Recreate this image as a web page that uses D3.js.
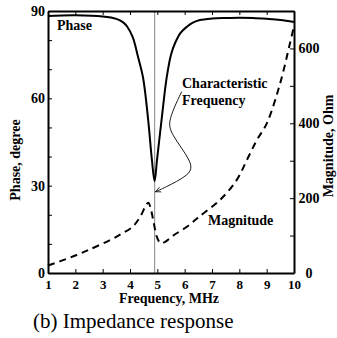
<!DOCTYPE html>
<html>
<head>
<meta charset="utf-8">
<script src="https://cdn.jsdelivr.net/npm/d3@7"></script>
<style>
  body { margin: 0; background: #fff; }
  svg text { font-family: "Liberation Serif", "Times New Roman", serif; }
  .axis path, .axis line { stroke: #000; }
  .axis path { stroke-width: 2; }
  .axis line { stroke-width: 1; }
  .axis text { font-size: 14px; font-weight: bold; fill: #000; }
  .axis.xb text { font-size: 13px; }
  .lbl { font-size: 14px; font-weight: bold; }
</style>
</head>
<body>
<svg width="337" height="338"></svg>
<script>
// frequency (MHz) and phase (degree)
const phaseFreq = [1, 2, 3, 3.5, 3.75, 3.9, 4.1, 4.3, 4.48, 4.66, 4.8, 4.9, 4.99, 5.16, 5.34, 5.5, 5.65, 5.85, 6.07, 6.3, 6.56, 7, 7.5, 8, 8.5, 9, 9.5, 10];
const phaseVal  = [88.3, 88.5, 88.1, 87.3, 86.1, 84.6, 81, 74, 67, 53, 39, 31.5, 39, 53, 67, 75, 79, 82.5, 84.5, 86, 86.9, 87.4, 87.6, 87.7, 87.6, 87.3, 86.9, 86.2];

// frequency (MHz) and magnitude (Ohm)
const magFreq = [1, 1.5, 2.05, 2.5, 3.27, 3.7, 4.1, 4.37, 4.6, 4.67, 4.75, 4.85, 4.98, 5.08, 5.16, 5.3, 5.58, 6.07, 6.44, 6.68, 7.29, 7.9, 8.27, 8.64, 9.0, 9.49, 9.85, 10];
const magVal  = [20, 33, 48, 62, 88, 105, 124, 150, 183, 188, 175, 141, 97, 82, 79, 84, 100, 123, 145, 159, 195, 248, 301, 355, 399, 506, 613, 660];

const charFreq = 4.9;

const xTicks = [1, 2, 3, 4, 5, 6, 7, 8, 9, 10];
const phaseTicks = [0, 10, 20, 30, 40, 50, 60, 70, 80, 90];
const magTicks = [0, 100, 200, 300, 400, 500, 600, 700];

// annotation leader, in (MHz, degree)
const leaderF = [5.89, 5.4, 5.46, 6.32, 6.2, 5.22, 4.93];
const leaderP = [62.3, 52.6, 48.1, 37.7, 33.7, 29.1, 27.9];

const svg = d3.select("svg");
const x0 = 48, x1 = 294, y0 = 273, y1 = 11;

const x = d3.scaleLinear().domain([1, 10]).range([x0, x1]),
    yP = d3.scaleLinear().domain([0, 90]).range([y0, y1]),
    yM = d3.scaleLinear().domain([0, 700]).range([y0, y1]);

svg.append("defs").append("marker")
    .attr("id", "arr")
    .attr("viewBox", "0 0 10 10")
    .attr("refX", 9).attr("refY", 5)
    .attr("markerWidth", 7).attr("markerHeight", 7)
    .attr("orient", "auto")
  .append("path")
    .attr("d", "M0,1 L9,5 L0,9")
    .attr("fill", "none").attr("stroke", "#000").attr("stroke-width", 1.2);

// characteristic frequency marker
svg.append("line")
    .attr("x1", x(charFreq)).attr("x2", x(charFreq))
    .attr("y1", y1).attr("y2", y0)
    .attr("stroke", "#999").attr("stroke-width", 1.2);

// axes
svg.append("g").attr("class", "axis xb")
    .attr("transform", "translate(0," + y0 + ")")
    .call(d3.axisBottom(x).tickValues(xTicks).tickSizeInner(-4).tickSizeOuter(0).tickPadding(7).tickFormat(d3.format("d")));

svg.append("g").attr("class", "axis")
    .attr("transform", "translate(0," + y1 + ")")
    .call(d3.axisTop(x).tickValues(xTicks).tickSizeInner(-4).tickSizeOuter(0).tickFormat(""));

svg.append("g").attr("class", "axis")
    .attr("transform", "translate(" + x0 + ",0)")
    .call(d3.axisLeft(yP).tickValues(phaseTicks).tickSizeInner(-4).tickSizeOuter(0).tickPadding(3)
      .tickFormat(d => d % 30 === 0 ? d : ""));

var gr = svg.append("g").attr("class", "axis")
    .attr("transform", "translate(" + x1 + ",0)")
    .call(d3.axisRight(yM).tickValues(magTicks).tickSizeInner(-4).tickSizeOuter(0)
      .tickFormat(d => d % 200 === 0 ? d : ""));
gr.selectAll("text").attr("text-anchor", "middle").attr("x", 15);

// phase curve
const phaseData = phaseFreq.map((f, i) => [f, phaseVal[i]]);
svg.append("path")
    .datum(phaseData)
    .attr("fill", "none").attr("stroke", "#000").attr("stroke-width", 2)
    .attr("d", d3.line().x(d => x(d[0])).y(d => yP(d[1])).curve(d3.curveCatmullRom.alpha(0.5)));

// magnitude curve
const magData = magFreq.map((f, i) => [f, magVal[i]]);
svg.append("path")
    .datum(magData)
    .attr("fill", "none").attr("stroke", "#000").attr("stroke-width", 2)
    .attr("stroke-dasharray", "7,5")
    .attr("d", d3.line().x(d => x(d[0])).y(d => yM(d[1])).curve(d3.curveCatmullRom.alpha(0.5)));

// leader to the dip
const leaderData = leaderF.map((f, i) => [f, leaderP[i]]);
svg.append("path")
    .datum(leaderData)
    .attr("fill", "none").attr("stroke", "#000").attr("stroke-width", 0.9)
    .attr("marker-end", "url(#arr)")
    .attr("d", d3.line().x(d => x(d[0])).y(d => yP(d[1])).curve(d3.curveBasis));

// labels
svg.append("text").attr("class", "lbl").attr("x", 57).attr("y", 30).text("Phase");
svg.append("text").attr("class", "lbl").attr("x", 208).attr("y", 225).text("Magnitude");
svg.append("text").attr("class", "lbl").attr("x", 182).attr("y", 88).text("Characteristic");
svg.append("text").attr("class", "lbl").attr("x", 182).attr("y", 105).text("Frequency");

svg.append("text").attr("class", "lbl")
    .attr("x", (x0 + x1) / 2 - 2).attr("y", 303)
    .attr("text-anchor", "middle").text("Frequency, MHz");

svg.append("text").attr("class", "lbl")
    .attr("transform", "translate(20,160) rotate(-90)")
    .attr("text-anchor", "middle").text("Phase, degree");

svg.append("text").attr("class", "lbl")
    .attr("transform", "translate(333,146) rotate(-90)")
    .attr("text-anchor", "middle").text("Magnitude, Ohm");

svg.append("text")
    .attr("x", 33).attr("y", 328)
    .style("font-size", "21px")
    .text("(b) Impedance response");
</script>
</body>
</html>
